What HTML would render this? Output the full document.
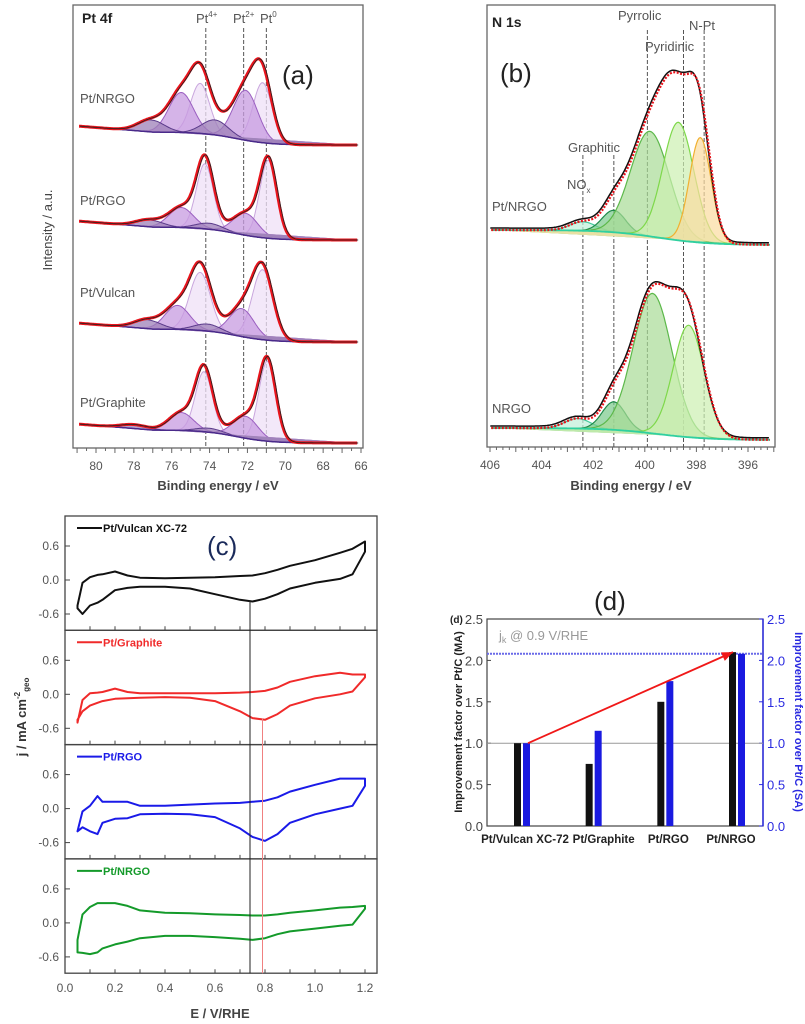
<!DOCTYPE html>
<html><head><meta charset="utf-8">
<style>
html,body{margin:0;padding:0;background:#fff;}
svg{display:block;font-family:"Liberation Sans",Arial,sans-serif;}
</style></head>
<body>
<svg id="fig" width="805" height="1024" viewBox="0 0 805 1024" xmlns="http://www.w3.org/2000/svg">
  <g id="pa"></g>
  <g id="pb"></g>
  <g id="pc"></g>
  <g id="pd"></g>
</svg>
<script>
// ---------- Panel (a) data: Pt 4f components [center eV, height] ----------
const ptSamples = ["Pt/NRGO","Pt/RGO","Pt/Vulcan","Pt/Graphite"];
const ptPt0 = [[71.2,60,74.5,50],[70.9,78,74.25,65],[71.2,70,74.5,58],[70.95,80,74.3,60]];
const ptPt2 = [[72.1,50,75.5,40],[72.1,22,75.5,20],[72.3,28,75.7,24],[72.1,22,75.5,18]];
const ptPt4 = [[73.7,15,77.1,12],[74.0,6,77.2,7],[74.1,7,77.3,9],[74.0,4,78.0,4]];
const ptSigma0 = [0.5,0.45,0.55,0.45];
const ptRefLines = [74.2,72.2,71.0];
const ptTicks = [80,78,76,74,72,70,68,66];
// ---------- Panel (b) data: N 1s components [center, height] ----------
const nSamples = ["Pt/NRGO","NRGO"];
const nNOx = [[402.4,9],[402.6,10]];
const nGraphitic = [[401.2,22],[401.2,28]];
const nPyrrolic = [[399.8,105],[399.7,140]];
const nPyridinic = [[398.7,118],[398.3,112]];
const nNPt = [[397.85,105],[0,0]];
const nRefLines = [402.4,401.2,399.9,398.5,397.7];
const nTicks = [406,404,402,400,398,396];
// ---------- Panel (c) data: CV ----------
const cvE = [0.05,0.07,0.1,0.13,0.15,0.2,0.25,0.3,0.4,0.5,0.6,0.7,0.75,0.8,0.85,0.9,1.0,1.1,1.15,1.2];
const cvNames = ["Pt/Vulcan XC-72","Pt/Graphite","Pt/RGO","Pt/NRGO"];
const cvVulcanUp = [-0.45,-0.05,0.05,0.09,0.1,0.15,0.08,0.04,0.03,0.04,0.05,0.07,0.08,0.12,0.18,0.25,0.35,0.48,0.55,0.68];
const cvVulcanDn = [-0.5,-0.6,-0.45,-0.4,-0.35,-0.18,-0.14,-0.12,-0.12,-0.15,-0.25,-0.35,-0.38,-0.33,-0.25,-0.15,-0.05,0.02,0.1,0.5];
const cvGraphiteUp = [-0.5,-0.1,0.02,0.03,0.04,0.1,0.04,0.02,0.02,0.02,0.02,0.03,0.04,0.06,0.12,0.22,0.32,0.38,0.35,0.35];
const cvGraphiteDn = [-0.45,-0.3,-0.2,-0.15,-0.12,-0.08,-0.07,-0.06,-0.05,-0.06,-0.12,-0.3,-0.42,-0.45,-0.35,-0.2,-0.07,0.0,0.05,0.3];
const cvRGOUp = [-0.4,-0.05,0.05,0.22,0.12,0.12,0.12,0.05,0.05,0.07,0.09,0.1,0.12,0.14,0.2,0.3,0.42,0.53,0.53,0.53];
const cvRGODn = [-0.4,-0.33,-0.4,-0.45,-0.25,-0.18,-0.17,-0.1,-0.09,-0.1,-0.15,-0.35,-0.5,-0.57,-0.45,-0.25,-0.1,0.0,0.05,0.4];
const cvNRGOUp = [-0.3,0.15,0.28,0.35,0.35,0.35,0.3,0.22,0.18,0.17,0.15,0.14,0.13,0.13,0.15,0.18,0.22,0.27,0.28,0.3];
const cvNRGODn = [-0.52,-0.53,-0.55,-0.52,-0.45,-0.38,-0.33,-0.27,-0.23,-0.23,-0.25,-0.28,-0.3,-0.27,-0.2,-0.15,-0.1,-0.05,-0.03,0.25];
const cvXTicks = ["0.0","0.2","0.4","0.6","0.8","1.0","1.2"];
const cvYTicks = [0.6,0.0,-0.6];
const cvMarkers = [0.74,0.79];
// ---------- Panel (d) data ----------
const barCats = ["Pt/Vulcan XC-72","Pt/Graphite","Pt/RGO","Pt/NRGO"];
const barMA = [1.0,0.75,1.5,2.1];
const barSA = [1.0,1.15,1.75,2.08];
const barYTicks = ["0.0","0.5","1.0","1.5","2.0","2.5"];

const NS="http://www.w3.org/2000/svg";
function mk(parent,tag,attrs,text){const e=document.createElementNS(NS,tag);for(const k in attrs)e.setAttribute(k,attrs[k]);if(text!==undefined)e.textContent=text;parent.appendChild(e);return e;}
function gauss(x,c,h,s){return h*Math.exp(-0.5*((x-c)/s)*((x-c)/s));}
function linScale(d0,d1,r0,r1){return v=>r0+(v-d0)*(r1-r0)/(d1-d0);}

// ================= Panel A =================
(function(){
const g=document.getElementById('pa');
const X=linScale(80,66,96,361);
const L=73,R=363,T=5,B=448;
const baseR=[145,240,342,443];
mk(g,'rect',{x:L,y:T,width:R-L,height:B-T,fill:'none',stroke:'#666','stroke-width':1.3,});
for(let e=66;e<=81;e+=0.5){const x=X(e);if(x<L||x>R)continue;const maj=Math.abs(e-Math.round(e))<0.01;mk(g,'line',{x1:x,x2:x,y1:B,y2:B+(maj?5:3),stroke:'#666','stroke-width':1});}
ptTicks.forEach(t=>{const tx=mk(g,'text',{x:X(t),y:470,'font-size':12,fill:'#555','text-anchor':'middle'},String(t));});
ptRefLines.forEach(v=>{const l=mk(g,'line',{x1:X(v),x2:X(v),y1:28,y2:B,stroke:'#555','stroke-width':1,'stroke-dasharray':'4,2'});});
function bg(e){return 13/(1+Math.exp(-(e-72.6)/0.9))+ (e>77?(e-77)*1.5:0);}
ptSamples.forEach((name,i)=>{
  const Y=v=>baseR[i]-v;
  const comps=[
    {c:ptPt0[i][0],h:ptPt0[i][1],s:ptSigma0[i],fill:'#efe0f7',stroke:'#c9a6dd'},
    {c:ptPt0[i][2],h:ptPt0[i][3],s:ptSigma0[i],fill:'#efe0f7',stroke:'#c9a6dd'},
    {c:ptPt2[i][0],h:ptPt2[i][1],s:0.65,fill:'#c79be0',stroke:'#9a5fc0'},
    {c:ptPt2[i][2],h:ptPt2[i][3],s:0.65,fill:'#c79be0',stroke:'#9a5fc0'},
    {c:ptPt4[i][0],h:ptPt4[i][1],s:0.7,fill:'#9d80b8',stroke:'#5a3a8a'},
    {c:ptPt4[i][2],h:ptPt4[i][3],s:0.7,fill:'#9d80b8',stroke:'#5a3a8a'}];
  const es=[];for(let e=80.9;e>=66.2;e-=0.05)es.push(e);
  comps.forEach(cp=>{
    let d='';es.forEach((e,k)=>{const v=bg(e)+gauss(e,cp.c,cp.h,cp.s);d+=(k?'L':'M')+X(e).toFixed(1)+','+Y(v).toFixed(1);});
    const p=mk(g,'path',{d:d,fill:cp.fill,'fill-opacity':0.75,stroke:cp.stroke,'stroke-width':1});
    
  });
  let dbg='';es.forEach((e,k)=>{dbg+=(k?'L':'M')+X(e).toFixed(1)+','+Y(bg(e)).toFixed(1);});
  const pb=mk(g,'path',{d:dbg,fill:'none',stroke:'#4a2a8a','stroke-width':1.5});
  
  let d='';es.forEach((e,k)=>{let v=bg(e);comps.forEach(cp=>v+=gauss(e,cp.c,cp.h,cp.s));d+=(k?'L':'M')+X(e).toFixed(1)+','+Y(v).toFixed(1);});
  const env=mk(g,'path',{d:d,fill:'none',stroke:'#e8141c','stroke-width':3});
  
  mk(g,'path',{d:d,fill:'none',stroke:'#222','stroke-width':0.8,transform:'translate(1,0)'});
  const lb=mk(g,'text',{x:80,y:[103,205,297,407][i],'font-size':13,fill:'#555'},name);
  
});
mk(g,'text',{x:82,y:23,'font-size':14,'font-weight':'bold',fill:'#222',},'Pt 4f');
const sup=[['Pt','4+',196],['Pt','2+',233],['Pt','0',260]];
sup.forEach(s=>{const t=mk(g,'text',{x:s[2],y:23,'font-size':13,fill:'#555'});mk(t,'tspan',{},s[0]);mk(t,'tspan',{dy:-6,'font-size':8},s[1]);});
mk(g,'text',{x:282,y:84,'font-size':26,fill:'#222',},'(a)');
mk(g,'text',{x:218,y:490,'font-size':13,'font-weight':'bold',fill:'#444','text-anchor':'middle',},'Binding energy / eV');
mk(g,'text',{x:0,y:0,'font-size':13,fill:'#444','text-anchor':'middle',transform:'translate(52,230) rotate(-90)',},'Intensity / a.u.');
})();

// ================= Panel B =================
(function(){
const g=document.getElementById('pb');
const X=linScale(406,396,490,748);
const L=487,R=775,T=5,B=447;
const baseR=[245,440],baseLrise=[15,12];
mk(g,'rect',{x:L,y:T,width:R-L,height:B-T,fill:'none',stroke:'#666','stroke-width':1.3,});
for(let e=395;e<=406.1;e+=0.25){const x=X(e);if(x<L||x>R)continue;const maj=Math.abs(e-Math.round(e))<0.01;mk(g,'line',{x1:x,x2:x,y1:B,y2:B+(maj?5:3),stroke:'#666','stroke-width':1});}
nTicks.forEach(t=>{const tx=mk(g,'text',{x:X(t),y:469,'font-size':12,fill:'#555','text-anchor':'middle'},String(t));});
nRefLines.forEach(v=>{const l=mk(g,'line',{x1:X(v),x2:X(v),y1:v<400.5?30:155,y2:B,stroke:'#555','stroke-width':1,'stroke-dasharray':'4,2'});});
nSamples.forEach((name,i)=>{
  const bg=e=>baseLrise[i]/(1+Math.exp(-(e-399.5)/1.0));
  const Y=v=>baseR[i]-v;
  const comps=[
    {c:nNOx[i][0],h:nNOx[i][1],s:0.5,fill:'#bff0d8',stroke:'#3fc89a'},
    {c:nGraphitic[i][0],h:nGraphitic[i][1],s:0.45,fill:'#79c98a',stroke:'#1f8a4a'},
    {c:nPyrrolic[i][0],h:nPyrrolic[i][1],s:0.75,fill:'#a8dc96',stroke:'#5cb84a'},
    {c:nPyridinic[i][0],h:nPyridinic[i][1],s:0.6,fill:'#ccf0b0',stroke:'#7ed84a'},
    {c:nNPt[i][0],h:nNPt[i][1],s:0.42,fill:'#fbdca0',stroke:'#f0b030'}];
  const es=[];for(let e=405.95;e>=395.1;e-=0.05)es.push(e);
  comps.forEach(cp=>{if(cp.h<=0)return;
    let d='';es.forEach((e,k)=>{const v=bg(e)+gauss(e,cp.c,cp.h,cp.s);d+=(k?'L':'M')+X(e).toFixed(1)+','+Y(v).toFixed(1);});
    const p=mk(g,'path',{d:d,fill:cp.fill,'fill-opacity':0.7,stroke:cp.stroke,'stroke-width':1.2});
    
  });
  let dbg='';es.forEach((e,k)=>{dbg+=(k?'L':'M')+X(e).toFixed(1)+','+Y(bg(e)).toFixed(1);});
  mk(g,'path',{d:dbg,fill:'none',stroke:'#2fd0a0','stroke-width':1.8});
  let d='';es.forEach((e,k)=>{let v=bg(e);comps.forEach(cp=>{if(cp.h>0)v+=gauss(e,cp.c,cp.h,cp.s);});d+=(k?'L':'M')+X(e).toFixed(1)+','+Y(v).toFixed(1);});
  mk(g,'path',{d:d,fill:'none',stroke:'#111','stroke-width':1.5,transform:'translate(-1,-2)'});
  const env=mk(g,'path',{d:d,fill:'none',stroke:'#e8141c','stroke-width':2.2,'stroke-dasharray':'2,1.5'});
  
  const lb=mk(g,'text',{x:492,y:[211,413][i],'font-size':13,fill:'#555'},name);
  
});
mk(g,'text',{x:492,y:27,'font-size':14,'font-weight':'bold',fill:'#222',},'N 1s');
[['Pyrrolic',618,20],['N-Pt',689,30],['Pyridinic',645,51],['Graphitic',568,152]].forEach(a=>{const t=mk(g,'text',{x:a[1],y:a[2],'font-size':13,fill:'#555'},a[0]);});
const nox=mk(g,'text',{x:567,y:189,'font-size':13,fill:'#555',});mk(nox,'tspan',{},'NO');mk(nox,'tspan',{dy:4,'font-size':8},'x');
mk(g,'text',{x:500,y:82,'font-size':26,fill:'#222',},'(b)');
mk(g,'text',{x:631,y:490,'font-size':13,'font-weight':'bold',fill:'#444','text-anchor':'middle',},'Binding energy / eV');
})();

// ================= Panel C =================
(function(){
const g=document.getElementById('pc');
const L=65,R=377,T=516,H=114.3;
const X=linScale(0,1.2,65,365);
const colors=['#111','#f02a2a','#1a1ae8','#149a2a'];
const ups=[cvVulcanUp,cvGraphiteUp,cvRGOUp,cvNRGOUp];
const dns=[cvVulcanDn,cvGraphiteDn,cvRGODn,cvNRGODn];
for(let i=0;i<4;i++){
  const top=T+i*H;
  const Y=linScale(0,0.6,top+64,top+30);
  const fr=mk(g,'rect',{x:L,y:top,width:R-L,height:H,fill:'none',stroke:'#444','stroke-width':1.3});
  
  cvYTicks.forEach(v=>{mk(g,'line',{x1:L,x2:L+5,y1:Y(v),y2:Y(v),stroke:'#444'});
    const t=mk(g,'text',{x:L-6,y:Y(v)+4,'font-size':12,fill:'#555','text-anchor':'end'},v.toFixed(1));});
  for(let e=0;e<=1.201;e+=0.1){mk(g,'line',{x1:X(e),x2:X(e),y1:top+H,y2:top+H-4,stroke:'#444'});}
  let d='';cvE.forEach((e,k)=>{d+=(k?'L':'M')+X(e).toFixed(1)+','+Y(ups[i][k]).toFixed(1);});
  for(let k=cvE.length-1;k>=0;k--){d+='L'+X(cvE[k]).toFixed(1)+','+Y(dns[i][k]).toFixed(1);}
  d+='Z';
  const p=mk(g,'path',{d:d,fill:'none',stroke:colors[i],'stroke-width':2,'stroke-linejoin':'round'});
  
  mk(g,'line',{x1:77,x2:102,y1:top+12,y2:top+12,stroke:colors[i],'stroke-width':2});
  const lt=mk(g,'text',{x:103,y:top+16,'font-size':11,'font-weight':'bold',fill:colors[i]},cvNames[i]);
  
}
const ml=['#222','#f08080'];
cvMarkers.forEach((v,k)=>{const l=mk(g,'line',{x1:X(v),x2:X(v),y1:k?T+H+88:T+85,y2:T+4*H,stroke:ml[k],'stroke-width':1});});
cvXTicks.forEach((t,k)=>{const tx=mk(g,'text',{x:X(k*0.2),y:992,'font-size':12,fill:'#555','text-anchor':'middle'},t);});
mk(g,'text',{x:220,y:1018,'font-size':13,'font-weight':'bold',fill:'#444','text-anchor':'middle',},'E / V/RHE');
const yl=mk(g,'text',{x:0,y:0,'font-size':13,'font-weight':'bold',fill:'#333','text-anchor':'middle',transform:'translate(26,717) rotate(-90)',});
mk(yl,'tspan',{},'j / mA cm');mk(yl,'tspan',{dy:-6,'font-size':8},'-2');mk(yl,'tspan',{dy:9,'font-size':8},'geo');
mk(g,'text',{x:207,y:555,'font-size':26,fill:'#1a2a5a',},'(c)');
})();

// ================= Panel D =================
(function(){
const g=document.getElementById('pd');
const L=487,R=763,T=619,B=826;
const Y=linScale(0,2.5,B,T);
const cx=linScale(0,3,522,737);
const labelDx=[3,10,3,-6];
mk(g,'rect',{x:L,y:T,width:R-L,height:B-T,fill:'none',stroke:'#444','stroke-width':1.2,});
mk(g,'line',{x1:R,x2:R,y1:T,y2:B,stroke:'#2a2ae0','stroke-width':1.5});
barYTicks.forEach(t=>{const v=parseFloat(t);
  mk(g,'line',{x1:L,x2:L+4,y1:Y(v),y2:Y(v),stroke:'#444'});
  mk(g,'line',{x1:R,x2:R-4,y1:Y(v),y2:Y(v),stroke:'#2a2ae0'});
  const a=mk(g,'text',{x:L-4,y:Y(v)+5,'font-size':13,fill:'#444','text-anchor':'end'},t);
  const b=mk(g,'text',{x:R+4,y:Y(v)+5,'font-size':13,fill:'#2a2ae0'},t);
});
mk(g,'line',{x1:L,x2:R,y1:Y(1.0),y2:Y(1.0),stroke:'#999','stroke-width':1,});
mk(g,'line',{x1:L,x2:R,y1:Y(barSA[3]),y2:Y(barSA[3]),stroke:'#6a6ae8','stroke-width':2,'stroke-dasharray':'2,1',});
barCats.forEach((c,i)=>{
  const b1=mk(g,'rect',{x:cx(i)-8,y:Y(barMA[i]),width:7,height:B-Y(barMA[i]),fill:'#111'});
  
  const b2=mk(g,'rect',{x:cx(i)+1,y:Y(barSA[i]),width:7,height:B-Y(barSA[i]),fill:'#1a1ae0'});
  
  const t=mk(g,'text',{x:cx(i)+labelDx[i],y:843,'font-size':11.5,'font-weight':'bold',fill:'#222','text-anchor':'middle'},c);
  
});
const x1=cx(0)+6,y1=Y(barSA[0]),x2=cx(3)-4,y2=Y(barMA[3]);
mk(g,'line',{x1:x1,y1:y1,x2:x2,y2:y2,stroke:'#f01818','stroke-width':1.8,});
const ang=Math.atan2(y2-y1,x2-x1),s=12;
mk(g,'polygon',{points:`${x2},${y2} ${x2-s*Math.cos(ang-0.4)},${y2-s*Math.sin(ang-0.4)} ${x2-s*Math.cos(ang+0.4)},${y2-s*Math.sin(ang+0.4)}`,fill:'#f01818',});
const jk=mk(g,'text',{x:499,y:640,'font-size':13,fill:'#999',});mk(jk,'tspan',{},'j');mk(jk,'tspan',{dy:3,'font-size':9},'k');mk(jk,'tspan',{dy:-3},' @ 0.9 V/RHE');
mk(g,'text',{x:0,y:0,'font-size':11,'font-weight':'bold',fill:'#222','text-anchor':'middle',transform:'translate(462,722) rotate(-90)',},'Improvement factor over Pt/C (MA)');
mk(g,'text',{x:0,y:0,'font-size':11,'font-weight':'bold',fill:'#2a2ae0','text-anchor':'middle',transform:'translate(795,722) rotate(90)',},'Improvement factor over Pt/C (SA)');
mk(g,'text',{x:450,y:623,'font-size':10,'font-weight':'bold',fill:'#222',},'(d)');
mk(g,'text',{x:594,y:610,'font-size':26,fill:'#222',},'(d)');
})();
</script>
</body></html>
